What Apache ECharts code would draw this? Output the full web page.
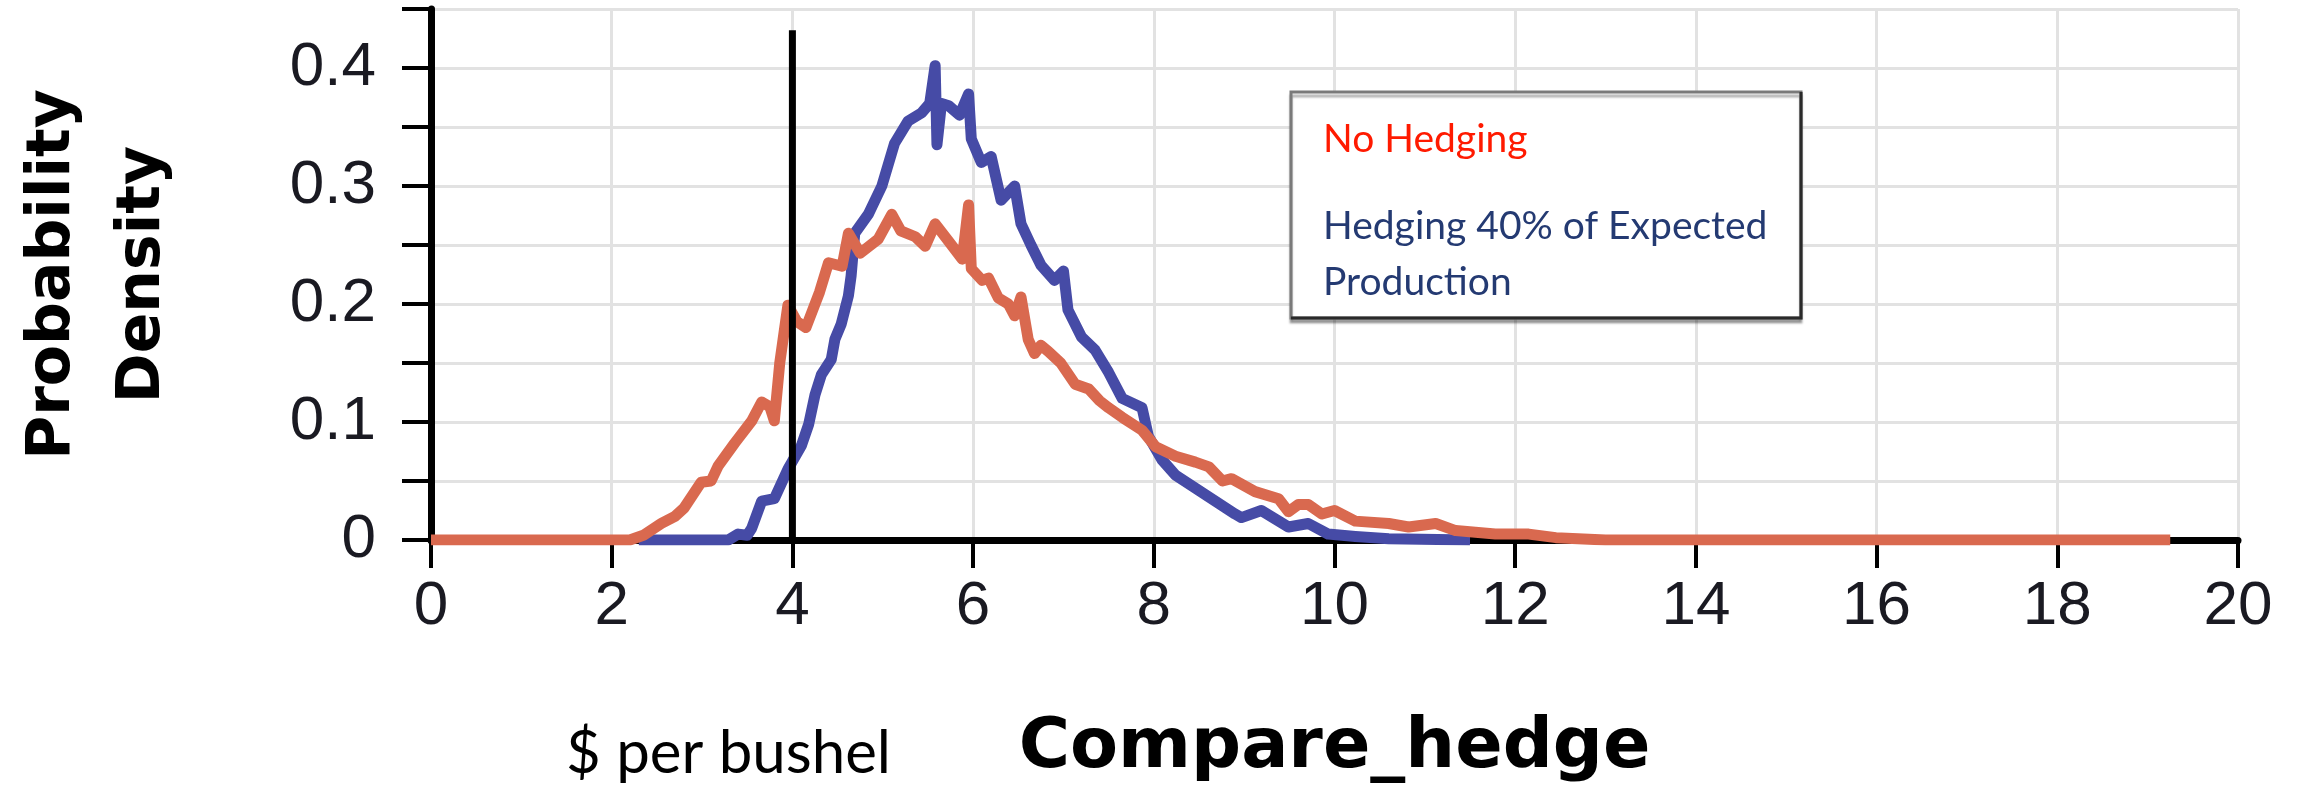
<!DOCTYPE html>
<html>
<head>
<meta charset="utf-8">
<script src="https://cdn.jsdelivr.net/npm/echarts@6/dist/echarts.min.js"></script>
<style>
html,body{margin:0;padding:0;background:#fff;}
#chart{width:2300px;height:794px;}
</style>
</head>
<body>
<div id="chart"></div>
<script>
// ---- data ----
const xTickValues = [0, 2, 4, 6, 8, 10, 12, 14, 16, 18, 20];
const yTickLabels = ['0', '0.1', '0.2', '0.3', '0.4'];

const noHedgeX = [0, 2.2, 2.35, 2.55, 2.7, 2.8, 2.99, 3.1, 3.18, 3.36, 3.55, 3.66, 3.75, 3.8, 3.86, 3.95, 4.05, 4.15, 4.3, 4.4, 4.55, 4.62, 4.75, 4.95, 5.1, 5.2, 5.36, 5.47, 5.58, 5.73, 5.88, 5.95, 5.98, 6.1, 6.17, 6.28, 6.39, 6.46, 6.53, 6.61, 6.68, 6.75, 6.83, 6.97, 7.13, 7.28, 7.4, 7.5, 7.65, 7.87, 8.02, 8.24, 8.46, 8.61, 8.76, 8.86, 9.12, 9.38, 9.49, 9.6, 9.71, 9.86, 10.0, 10.23, 10.6, 10.82, 11.12, 11.34, 11.78, 12.15, 12.45, 13.0, 19.25];
const noHedgeY = [0, 0, 0.004, 0.014, 0.02, 0.027, 0.049, 0.05, 0.063, 0.082, 0.101, 0.117, 0.113, 0.101, 0.15, 0.199, 0.185, 0.18, 0.21, 0.235, 0.232, 0.26, 0.243, 0.255, 0.276, 0.262, 0.257, 0.249, 0.268, 0.253, 0.238, 0.284, 0.23, 0.22, 0.222, 0.205, 0.2, 0.19, 0.206, 0.17, 0.158, 0.165, 0.16, 0.15, 0.132, 0.128, 0.118, 0.112, 0.104, 0.093, 0.079, 0.071, 0.066, 0.062, 0.05, 0.052, 0.041, 0.035, 0.024, 0.03, 0.03, 0.022, 0.025, 0.016, 0.014, 0.011, 0.014, 0.008, 0.005, 0.005, 0.002, 0, 0];

const hedgeX = [2.3, 3.29, 3.4, 3.5, 3.55, 3.66, 3.8, 3.95, 4.1, 4.18, 4.25, 4.32, 4.43, 4.47, 4.54, 4.62, 4.65, 4.69, 4.84, 4.99, 5.13, 5.28, 5.43, 5.52, 5.58, 5.6, 5.65, 5.73, 5.85, 5.95, 5.98, 6.09, 6.2, 6.31, 6.46, 6.53, 6.64, 6.75, 6.9, 7.0, 7.05, 7.2, 7.35, 7.5, 7.65, 7.87, 7.94, 8.09, 8.24, 8.46, 8.68, 8.9, 8.97, 9.19, 9.49, 9.71, 9.93, 10.23, 10.6, 11.5];
const hedgeY = [0, 0, 0.005, 0.004, 0.01, 0.033, 0.035, 0.06, 0.08, 0.098, 0.123, 0.14, 0.153, 0.17, 0.183, 0.207, 0.224, 0.26, 0.276, 0.3, 0.336, 0.355, 0.362, 0.37, 0.402, 0.335, 0.37, 0.368, 0.36, 0.378, 0.34, 0.32, 0.325, 0.288, 0.3, 0.268, 0.25, 0.233, 0.22, 0.228, 0.195, 0.172, 0.161, 0.142, 0.12, 0.112, 0.088, 0.068, 0.055, 0.044, 0.033, 0.022, 0.019, 0.025, 0.011, 0.014, 0.005, 0.003, 0.001, 0];

const cutoffX = [4, 4];
const cutoffY = [0, 0.432];

const seriesNames = ['No Hedging', 'Hedging 40% of Expected Production'];
const xTitle = 'Compare_hedge';
const yTitle = 'Probability\nDensity';
const unitNote = '$ per bushel';
// ----------------------------------------------

const zip = (xs, ys) => xs.map((x, i) => [x, ys[i]]);

const chart = echarts.init(document.getElementById('chart'), null, {renderer: 'canvas'});

const option = {
  backgroundColor: '#ffffff',
  animation: false,
  grid: {left: 429, right: 62, top: 9, bottom: 236, containLabel: false},
  xAxis: {
    type: 'value', min: 0, max: 20, interval: 2,
    name: xTitle, nameLocation: 'middle', nameGap: 169,
    nameTextStyle: {fontFamily: 'DejaVu Sans', fontWeight: 'bold', fontSize: 70, color: '#000', lineHeight: 80},
    axisLine: {show: true, onZero: false, lineStyle: {color: '#000', width: 7}},
    axisTick: {show: true, inside: false, length: 28, lineStyle: {color: '#000', width: 4}},
    axisLabel: {
      margin: 36, fontFamily: 'Liberation Sans', fontSize: 62, color: '#1a1a22',
      formatter: v => xTickValues.indexOf(v) >= 0 ? String(v) : ''
    },
    splitLine: {show: true, lineStyle: {color: '#e2e2e2', width: 3}}
  },
  yAxis: {
    type: 'value', min: 0, max: 0.45, interval: 0.05,
    name: yTitle, nameLocation: 'middle', nameGap: 243,
    nameTextStyle: {fontFamily: 'DejaVu Sans', fontWeight: 'bold', fontSize: 60, color: '#000', lineHeight: 90, align: 'center'},
    axisLine: {show: true, onZero: false, lineStyle: {color: '#000', width: 7}},
    axisTick: {show: true, inside: false, length: 29, lineStyle: {color: '#000', width: 4}},
    axisLabel: {
      margin: 55, fontFamily: 'Liberation Sans', fontSize: 62, color: '#1a1a22',
      formatter: v => {
        const t = Math.round(v * 10);
        if (Math.abs(v * 10 - t) > 1e-6) return '';
        const s = String(t / 10);
        return yTickLabels.indexOf(s) >= 0 ? s : '';
      }
    },
    splitLine: {show: true, lineStyle: {color: '#e2e2e2', width: 3}}
  },
  legend: {
    orient: 'vertical',
    left: 1291, top: 92,
    padding: [19, 34, 8, 27],
    itemGap: 31,
    itemWidth: 0, itemHeight: 0,
    icon: 'none',
    selectedMode: false,
    backgroundColor: 'transparent',
    textStyle: {fontFamily: 'Lato', fontSize: 39, lineHeight: 56},
    formatter: name => name === seriesNames[1] ? 'Hedging 40% of Expected\nProduction' : name,
    data: [
      {name: seriesNames[0], textStyle: {color: '#ff1a00'}},
      {name: seriesNames[1], textStyle: {color: '#243a72'}}
    ],
    z: 6
  },
  graphic: [
    {
      type: 'rect', z: 5, silent: true,
      shape: {x: 1291, y: 92, width: 510, height: 226},
      style: {fill: '#fff', stroke: '#7a7a7a', lineWidth: 3, shadowColor: 'rgba(0,0,0,0.3)', shadowOffsetY: 4, shadowOffsetX: 0, shadowBlur: 2}
    },
    {
      type: 'polyline', z: 5, silent: true,
      shape: {points: [[1801, 92], [1801, 318], [1291, 318]]},
      style: {stroke: '#2a2a2a', lineWidth: 3, fill: null}
    },
    {
      type: 'text', z: 5, silent: true,
      style: {x: 566, y: 754, text: unitNote, fontFamily: 'Lato', fontSize: 60, fill: '#000', align: 'left', verticalAlign: 'middle'}
    }
  ],
  series: [
    {
      name: seriesNames[1], type: 'line', data: zip(hedgeX, hedgeY),
      showSymbol: false, symbol: 'none', z: 2,
      lineStyle: {color: '#464ba6', width: 11, join: 'round'},
      itemStyle: {color: '#464ba6'}
    },
    {
      name: seriesNames[0], type: 'line', data: zip(noHedgeX, noHedgeY),
      showSymbol: false, symbol: 'none', z: 3,
      lineStyle: {color: '#d9694f', width: 11, join: 'round'},
      itemStyle: {color: '#d9694f'}
    },
    {
      name: 'cutoff', type: 'line', data: zip(cutoffX, cutoffY),
      showSymbol: false, symbol: 'none', z: 4, silent: true,
      lineStyle: {color: '#000', width: 7}
    }
  ]
};

chart.setOption(option);
</script>
</body>
</html>
